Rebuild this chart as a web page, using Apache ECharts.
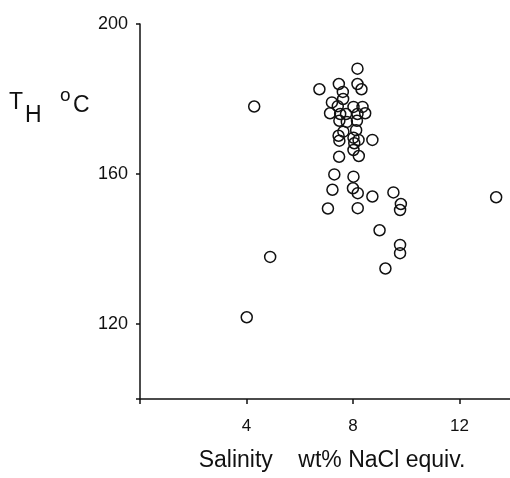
<!DOCTYPE html>
<html>
<head>
<meta charset="utf-8">
<script src="https://cdn.jsdelivr.net/npm/echarts@6/dist/echarts.min.js"></script>
<style>
html,body{margin:0;padding:0;background:#fff;}
#chart{width:510px;height:478px;}
</style>
</head>
<body>
<div id="chart"></div>
<script>
// Salinity (wt% NaCl equiv.) and homogenisation temperature T_H (°C)
const salinity = [
  8.17, 6.74, 7.47, 7.62, 8.17, 8.32, 7.63, 7.21, 7.43, 8.02,
  8.36, 7.14, 7.52, 7.74, 8.17, 8.46, 7.49, 7.77, 8.15, 7.64,
  8.12, 7.46, 8.02, 8.21, 8.73, 7.49, 8.05, 8.02, 8.22, 7.48,
  7.30, 8.02, 7.23, 8.00, 8.18, 8.73, 9.52, 9.80, 9.77, 7.06,
  8.18, 13.38, 9.00, 9.77, 9.77, 9.22, 4.29, 4.89, 4.01
];
const th = [
  188.1, 182.6, 184.0, 181.9, 184.0, 182.6, 180.0, 179.1, 178.1, 177.9,
  177.9, 176.2, 176.0, 176.0, 176.0, 176.2, 174.2, 173.9, 174.2, 171.3,
  171.7, 170.2, 169.7, 169.1, 169.1, 168.9, 168.2, 166.4, 164.8, 164.6,
  159.9, 159.3, 155.8, 156.2, 154.9, 154.0, 155.1, 152.0, 150.4, 150.8,
  150.9, 153.8, 145.0, 141.1, 138.9, 134.8, 178.0, 137.9, 121.8
];
const xTickLabels = [4, 8, 12];
const xTicks = [0, 4, 8, 12];
const yTickLabels = [120, 160, 200];
const yTicks = [100, 120, 160, 200];

const points = salinity.map((s, i) => [s, th[i]]);
const FAM = '"Liberation Sans", Arial, Helvetica, sans-serif';

const chart = echarts.init(document.getElementById('chart'), null, {renderer: 'canvas'});
chart.setOption({
  animation: false,
  backgroundColor: '#fff',
  grid: {left: 140, right: 0, top: 24, bottom: 79},
  xAxis: {
    type: 'value',
    min: 0,
    max: 13.9,
    splitLine: {show: false},
    axisLine: {show: true, onZero: false, lineStyle: {color: '#111', width: 1.5}},
    axisTick: {show: true, inside: false, length: 5, customValues: xTicks,
               lineStyle: {color: '#111', width: 1.5}},
    axisLabel: {customValues: xTickLabels, margin: 19, color: '#111',
                fontSize: 17, fontFamily: FAM},
    name: 'Salinity    wt% NaCl equiv.',
    nameLocation: 'middle',
    nameGap: 50,
    nameTextStyle: {color: '#111', fontSize: 23, fontFamily: FAM, padding: [0, 0, 0, 14]}
  },
  yAxis: {
    type: 'value',
    min: 100,
    max: 200,
    splitLine: {show: false},
    axisLine: {show: true, onZero: false, lineStyle: {color: '#111', width: 1.5}},
    axisTick: {show: true, length: 4, customValues: yTicks,
               lineStyle: {color: '#111', width: 1.5}},
    axisLabel: {customValues: yTickLabels, margin: 12, color: '#111',
                fontSize: 18, fontFamily: FAM}
  },
  graphic: [
    {type: 'text', id: 'lblH', left: 25, top: 104, style: {text: 'H', fontSize: 23, fontFamily: FAM, fill: '#111'}},
    {type: 'text', id: 'lblT', left: 9, top: 91, style: {text: 'T', fontSize: 23, fontFamily: FAM, fill: '#111'}},
    {type: 'text', id: 'lblO', left: 60, top: 86, style: {text: 'o', fontSize: 19, fontFamily: FAM, fill: '#111'}},
    {type: 'text', id: 'lblC', left: 73, top: 94, style: {text: 'C', fontSize: 23, fontFamily: FAM, fill: '#111'}}
  ],
  series: [{
    type: 'scatter',
    data: points,
    symbol: 'circle',
    symbolSize: 11,
    itemStyle: {color: 'rgba(0,0,0,0)', borderColor: '#111', borderWidth: 1.5, opacity: 1},
    emphasis: {disabled: true}
  }]
});
</script>
</body>
</html>
